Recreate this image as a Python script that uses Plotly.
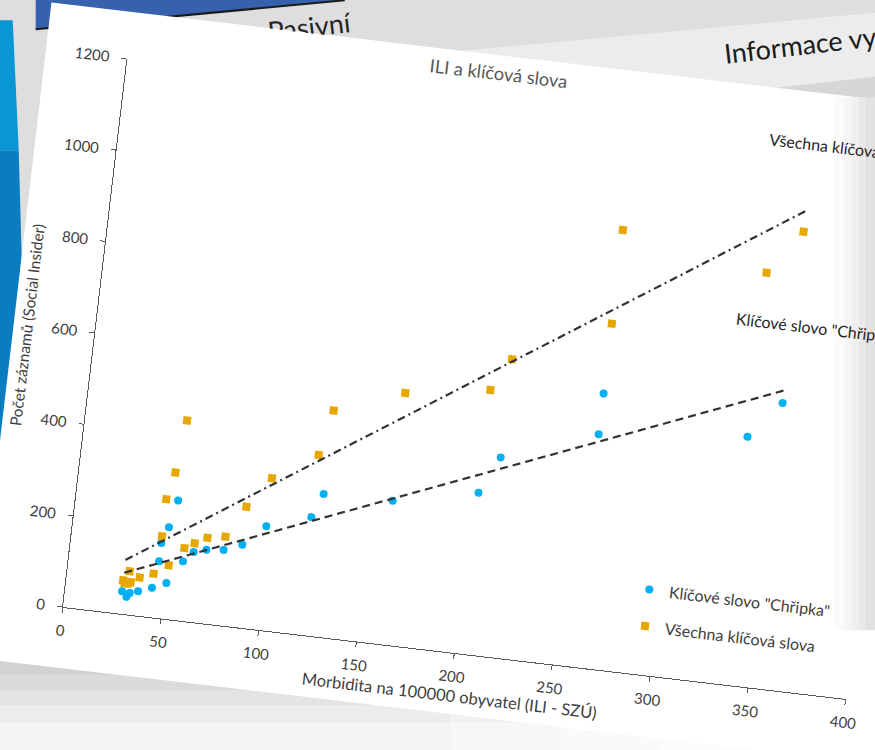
import math
import numpy as np
import plotly.graph_objects as go

# ---------------- data ----------------
x_chripka = [28.8, 31.4, 32.8, 36.9, 43.7, 50.7, 45.7, 45.8, 48.7, 51.7, 57.8, 62.6, 68.9,
             77.6, 86.7, 97.7, 119.9, 124.7, 159.9, 202.7, 211.8, 259.8, 259.9, 335.0, 350.7]
y_chripka = [49, 38, 47, 53, 64, 78, 123, 163, 199, 259, 129, 152, 160,
             164, 180, 226, 257, 310, 313, 352, 434, 509, 598, 541, 623]

x_vsechna = [28.7, 31.4, 32.7, 29.7, 31.5, 36.9, 43.7, 50.8, 45.7, 45.7, 48.7, 51.5, 57.7, 62.6,
             68.7, 77.7, 86.5, 97.7, 119.9, 124.8, 159.9, 202.6, 211.7, 259.9, 259.9, 334.9, 351.1]
y_vsechna = [73, 67, 71, 67, 94, 83, 95, 117, 178, 259, 319, 434, 158, 171,
             186, 193, 263, 331, 393, 493, 549, 577, 649, 751, 956, 900, 998]

x_range = [0, 400]
y_range = [0, 1200]
x_dtick = 50
y_dtick = 200

TITLE = "ILI a klíčová slova"
X_TITLE = "Morbidita na 100000 obyvatel (ILI - SZÚ)"
Y_TITLE = "Počet záznamů (Social Insider)"
NAME_CHRIPKA = 'Klíčové slovo "Chřipka"'
NAME_VSECHNA = "Všechna klíčová slova"
SLIDE_TEXT_1 = "Pasivní"
SLIDE_TEXT_2 = "Informace vy"

# ---------------- geometry of the tilted photo ----------------
ANGLE = 6.7                      # degrees, clockwise
OX, OY = 63.3, 606.7             # screen position of the axes origin
PW, PH = 788, 552                # plot area size (local frame)
ML, MR, MT, MB = 200, 112, 208, 220
W, H = ML + PW + MR, MT + PH + MB
CO, SI = math.cos(math.radians(ANGLE)), math.sin(math.radians(ANGLE))


def to_paper(sx, sy):
    dx, dy = sx - OX, sy - OY
    u = dx * CO + dy * SI
    v = -dx * SI + dy * CO
    return u / PW, -v / PH


def poly(points, color, opacity=1.0):
    pts = [to_paper(*p) for p in points]
    path = "M " + " L ".join(f"{x:.5f},{y:.5f}" for x, y in pts) + " Z"
    return dict(type="path", xref="paper", yref="paper", path=path,
                fillcolor=color, line=dict(width=0), layer="below", opacity=opacity)


FONT = "Lato, 'Open Sans', sans-serif"
BLUE = "#00B0F0"
GOLD = "#E6A800"
LINE = "#333333"

fig = go.Figure()
fig.add_trace(go.Scatter(x=x_chripka, y=y_chripka, mode="markers", name=NAME_CHRIPKA,
                         legendgroup="a",
                         marker=dict(color=BLUE, size=8, symbol="circle")))
fig.add_trace(go.Scatter(x=x_vsechna, y=y_vsechna, mode="markers", name=NAME_VSECHNA,
                         legendgroup="b",
                         marker=dict(color=GOLD, size=8, symbol="square")))

# linear trend lines (least squares fit of each series)
for xs, ys, dash in [(x_chripka, y_chripka, "8px,5px"),
                     (x_vsechna, y_vsechna, "8px,4px,2px,4px")]:
    k, q = np.polyfit(xs, ys, 1)
    tx = [min(xs), max(xs)]
    fig.add_trace(go.Scatter(x=tx, y=[k * t + q for t in tx], mode="lines",
                             line=dict(color=LINE, width=2.2, dash=dash),
                             showlegend=False, hoverinfo="skip"))

# ---------------- background of the photographed slide ----------------
shapes = []
shapes.append(poly([(380, 58), (880, 12), (880, 140), (380, 140)], "#ececec"))
shapes.append(poly([(680, 98), (880, 76), (880, 140), (680, 140)], "#d6d6d6"))
shapes.append(poly([(36, -6), (345, -6), (345, 0), (36, 29)], "#3561ad"))
shapes.append(poly([(-6, 20), (13, 20), (19, 150), (-6, 150)], "#0a95d3"))
shapes.append(poly([(-6, 150), (19, 150), (22, 258), (90, 258), (90, 560), (-6, 560)], "#0a7cc0"))
for y0, y1, col in [(640, 675, "#d2d2d2"), (675, 690, "#dbdbdb"), (690, 705, "#e4e4e4"),
                    (705, 722, "#ececec"), (722, 770, "#f4f4f4")]:
    shapes.append(poly([(-6, y0), (880, y0), (880, y1), (-6, y1)], col))
for x0, x1, op in [(450, 560, 0.25), (560, 660, 0.5), (660, 760, 0.75), (760, 880, 0.9)]:
    shapes.append(poly([(x0, 600), (x1, 600), (x1, 770), (x0, 770)], "#ffffff", op))
# header underline
p0, p1 = to_paper(36, 29), to_paper(345, 0)
shapes.append(dict(type="line", xref="paper", yref="paper", x0=p0[0], y0=p0[1], x1=p1[0], y1=p1[1],
                   line=dict(color="#1a1a1a", width=2), layer="below"))
# the white chart card
shapes.append(dict(type="rect", xref="paper", yref="paper",
                   x0=-82 / PW, x1=1000 / PW, y0=-61 / PH, y1=599 / PH,
                   fillcolor="#ffffff", line=dict(width=0), layer="below"))
# light reflection on the right
for x0, x1, col in [(834, 844, "#fbfbfb"), (844, 852, "#f5f5f5"), (852, 859, "#efefef"),
                    (859, 865, "#e9e9e9"), (865, 880, "#e2e2e2")]:
    shapes.append(poly([(x0, 97), (x1, 97), (x1, 630), (x0, 630)], col))

annotations = []
px, py = to_paper(310, 26)
annotations.append(dict(text=SLIDE_TEXT_1, x=px, y=py, xref="paper", yref="paper",
                        xanchor="center", yanchor="middle",
                        showarrow=False, textangle=-13.3,
                        font=dict(family=FONT, size=27, color="#262626")))
# part of the card that hides the lower half of the slide heading
annotations.append(dict(text=" ", x=118 / PW, y=599 / PH, xref="paper", yref="paper",
                        xanchor="left", yanchor="top", width=125, height=22, borderpad=0,
                        bgcolor="#ffffff", showarrow=False))
px, py = to_paper(800, 44)
annotations.append(dict(text=SLIDE_TEXT_2, x=px, y=py, xref="paper", yref="paper",
                        xanchor="center", yanchor="middle",
                        showarrow=False, textangle=-13.3,
                        font=dict(family=FONT, size=27, color="#1a1a1a")))
px, py = to_paper(768, 138)
annotations.append(dict(text=NAME_VSECHNA, x=px, y=py, xref="paper", yref="paper",
                        xanchor="left", yanchor="middle", showarrow=False,
                        font=dict(family=FONT, size=16, color="#262626")))
px, py = to_paper(735, 318)
annotations.append(dict(text=NAME_CHRIPKA, x=px, y=py, xref="paper", yref="paper",
                        xanchor="left", yanchor="middle", showarrow=False,
                        font=dict(family=FONT, size=16, color="#262626")))

axis_common = dict(showline=True, linecolor="#595959", linewidth=1, ticks="outside",
                   ticklen=5, tickcolor="#595959", showgrid=False, zeroline=False,
                   tickfont=dict(family=FONT, size=15, color="#404040"))

title_y = 1 - (MT + PH - 580.4) / H

fig.update_layout(
    width=W, height=H,
    margin=dict(l=ML, r=MR, t=MT, b=MB, autoexpand=False),
    paper_bgcolor="#dedede", plot_bgcolor="rgba(0,0,0,0)",
    font=dict(family=FONT, color="#404040"),
    title=dict(text=TITLE, x=0.47, y=title_y, xref="paper", yref="container",
               xanchor="center", yanchor="middle",
               font=dict(family=FONT, size=18.3, color="#595959")),
    xaxis=dict(range=x_range, dtick=x_dtick, ticklabelstandoff=5,
               title=dict(text=X_TITLE, standoff=1,
                          font=dict(family=FONT, size=16.5, color="#404040")),
               **axis_common),
    yaxis=dict(range=y_range, dtick=y_dtick, ticklabelstandoff=9,
               title=dict(text=Y_TITLE, standoff=5,
                          font=dict(family=FONT, size=15.5, color="#404040")),
               **axis_common),
    legend=dict(x=0.711, y=0.186, xanchor="left", yanchor="top", bgcolor="rgba(0,0,0,0)",
                traceorder="grouped", tracegroupgap=13,
                font=dict(family=FONT, size=16, color="#404040")),
    shapes=shapes,
    annotations=annotations,
    showlegend=True,
)

post = """
var gd = document.getElementById('{plot_id}');
document.documentElement.style.background = '#dedede';
document.documentElement.style.overflow = 'hidden';
document.body.style.margin = '0';
document.body.style.overflow = 'hidden';
document.body.style.background = '#dedede';
gd.style.position = 'absolute';
gd.style.left = '%.2fpx';
gd.style.top = '%.2fpx';
gd.style.transformOrigin = '%.2fpx %.2fpx';
gd.style.transform = 'rotate(%.2fdeg)';
""" % (OX - ML, OY - (MT + PH), ML, MT + PH, ANGLE)

fig.write_html("out.html", config={"displayModeBar": False}, post_script=post)
